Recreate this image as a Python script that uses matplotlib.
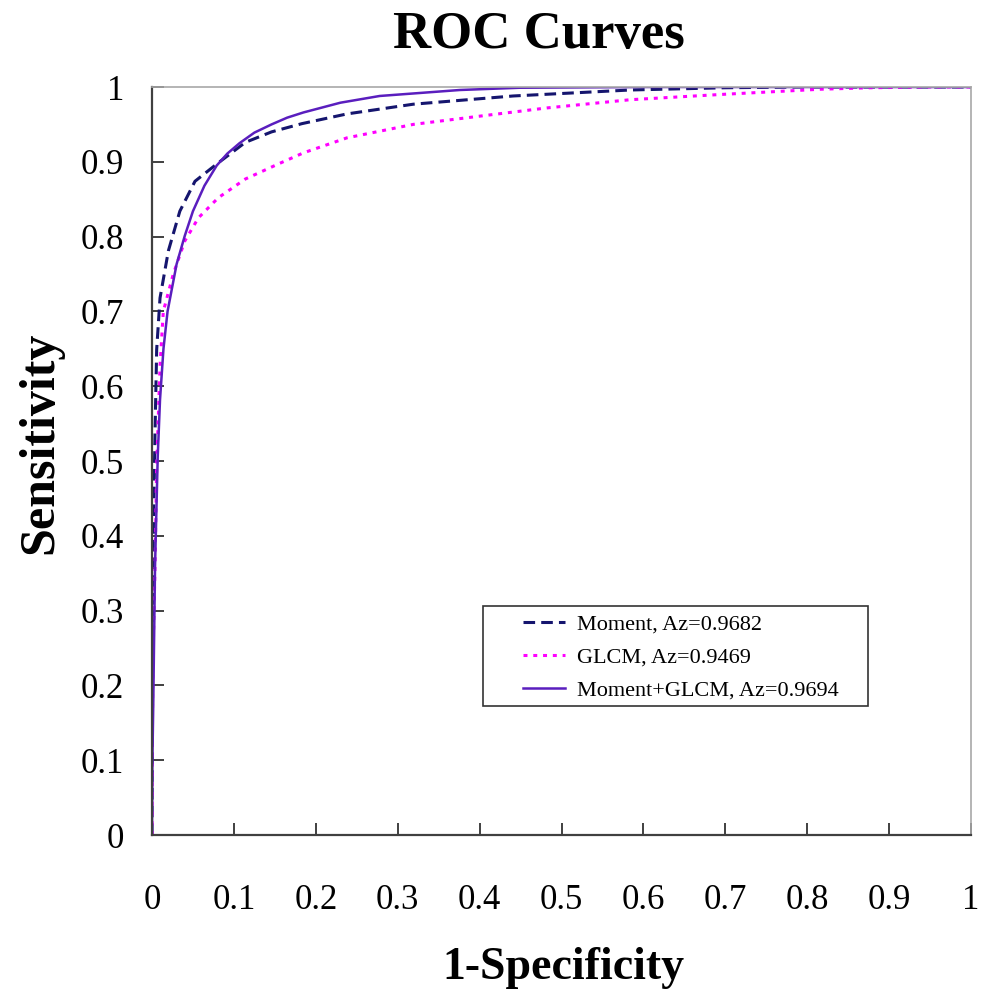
import matplotlib
matplotlib.use("Agg")
import matplotlib.pyplot as plt
from matplotlib.patches import Rectangle

plt.rcParams['font.family'] = ['Liberation Serif', 'DejaVu Serif']

# Moment+GLCM (solid)
combo_x = [0, 0.0005, 0.0016, 0.0037, 0.007, 0.0098, 0.014, 0.019, 0.030, 0.040, 0.050,
           0.064, 0.079, 0.092, 0.107, 0.125, 0.146, 0.165, 0.185, 0.230, 0.278, 0.376,
           0.449, 0.60, 0.80, 1.0]
combo_y = [0, 0.10, 0.18, 0.359, 0.506, 0.582, 0.65, 0.70, 0.763, 0.801, 0.834,
           0.868, 0.895, 0.911, 0.925, 0.939, 0.950, 0.959, 0.966, 0.979, 0.988, 0.996,
           0.999, 1.0, 1.0, 1.0]

# Moment (dashed)
moment_x = [0, 0.0005, 0.0016, 0.0037, 0.0057, 0.0098, 0.020, 0.034, 0.0525, 0.079,
            0.114, 0.146, 0.183, 0.238, 0.319, 0.441, 0.584, 0.70, 0.79, 1.0]
moment_y = [0, 0.23, 0.404, 0.538, 0.649, 0.718, 0.781, 0.834, 0.874, 0.897,
            0.926, 0.940, 0.951, 0.964, 0.977, 0.988, 0.996, 0.999, 1.0, 1.0]

# GLCM (dotted)
glcm_x = [0, 0.0003, 0.001, 0.0037, 0.0057, 0.0098, 0.0138, 0.026, 0.040, 0.0566, 0.081,
          0.114, 0.154, 0.185, 0.238, 0.319, 0.40, 0.482, 0.584, 0.694, 0.816, 0.877, 0.95, 1.0]
glcm_y = [0, 0.11, 0.225, 0.359, 0.493, 0.627, 0.700, 0.750, 0.794, 0.825, 0.852,
          0.877, 0.897, 0.912, 0.932, 0.950, 0.961, 0.972, 0.983, 0.990, 0.997, 0.999, 1.0, 1.0]

labels = ["Moment, Az=0.9682", "GLCM, Az=0.9469", "Moment+GLCM, Az=0.9694"]
ticks = [0, 0.1, 0.2, 0.3, 0.4, 0.5, 0.6, 0.7, 0.8, 0.9, 1.0]
tick_labels = ["0", "0.1", "0.2", "0.3", "0.4", "0.5", "0.6", "0.7", "0.8", "0.9", "1"]

fig = plt.figure(figsize=(9.89, 9.89), dpi=100)
ax = fig.add_axes([152/989, 1-835/989, (971-152)/989, (835-87)/989])

l1, = ax.plot(moment_x, moment_y, color='#15156E', lw=2.2, dashes=(3.8, 2.0), label=labels[0])
l2, = ax.plot(glcm_x, glcm_y, color='#FF00FF', lw=2.2, dashes=(1.3, 1.9), label=labels[1])
l3, = ax.plot(combo_x, combo_y, color='#5A1EBE', lw=1.8, label=labels[2])

ax.set_xlim(0, 1)
ax.set_ylim(0, 1)
ax.set_xticks(ticks)
ax.set_xticklabels(tick_labels)
ax.set_yticks(ticks)
ax.set_yticklabels(tick_labels)
ax.tick_params(axis='both', direction='in', length=8.5, width=1.4, color='#404040',
               labelsize=25)
ax.tick_params(axis='x', pad=35)
ax.tick_params(axis='y', pad=20)

for s in ['left', 'bottom']:
    ax.spines[s].set_color('#404040')
    ax.spines[s].set_linewidth(1.6)
for s in ['top', 'right']:
    ax.spines[s].set_color('#A8A8A8')
    ax.spines[s].set_linewidth(1.2)

fig.text(539/989, 1-35/989, "ROC Curves", ha='center', va='center',
         fontsize=38, fontweight='bold')
ax.set_xlabel("1-Specificity", fontsize=33, fontweight='bold', va='center')
ax.xaxis.set_label_coords((563-152)/819, (835-968)/748)
ax.set_ylabel("Sensitivity", fontsize=36, fontweight='bold', va='center')
ax.yaxis.set_label_coords((40-152)/819, (835-443)/748)

# legend frame and entries
x0 = (483-152)/819
y0 = (835-706)/748
w = (868-483)/819
h = (706-606)/748
ax.add_patch(Rectangle((x0, y0), w, h, transform=ax.transAxes, fill=False,
                       edgecolor='#333333', lw=1.2, zorder=5))
leg = ax.legend(handles=[l1, l2, l3], loc='upper left',
                bbox_to_anchor=((523-152)/819, (835-614)/748),
                frameon=False, fontsize=16, handlelength=1.9, handletextpad=0.54,
                labelspacing=0.56, borderpad=0, borderaxespad=0)

fig.savefig("out.png", dpi=100, facecolor='white')
